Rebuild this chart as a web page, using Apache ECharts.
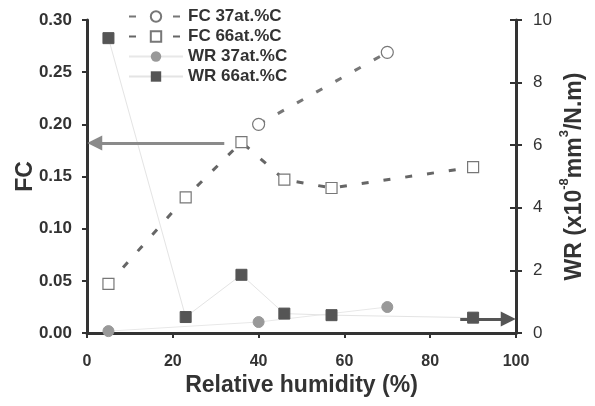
<!DOCTYPE html>
<html><head><meta charset="utf-8">
<script src="https://cdn.jsdelivr.net/npm/echarts@6/dist/echarts.min.js"></script>
<style>html,body{margin:0;padding:0;background:#fff}#c{width:595px;height:406px}</style>
</head><body><div id="c"></div>
<script>
const xTicks = [0, 20, 40, 60, 80, 100];
const fcTicks = [0, 0.05, 0.10, 0.15, 0.20, 0.25, 0.30];
const wrTicks = [0, 2, 4, 6, 8, 10];

const humFC37 = [40, 70];
const fc37 = [0.200, 0.269];
const humFC66 = [5, 23, 36, 46, 57, 90];
const fc66 = [0.047, 0.130, 0.183, 0.147, 0.139, 0.159];
const humWR37 = [5, 40, 70];
const wr37 = [0.06, 0.35, 0.83];
const humWR66 = [5, 23, 36, 46, 57, 90];
const wr66 = [9.42, 0.51, 1.86, 0.62, 0.57, 0.49];

const arrowFC = [[32, 0.182], [1.8, 0.182]];
const arrowWR = [[87, 0.45], [98.2, 0.45]];

const pairs = (xs, ys) => xs.map((x, i) => [x, ys[i]]);
const FONT = 'Liberation Sans, Arial, sans-serif';

const chart = echarts.init(document.getElementById('c'), null, {renderer: 'canvas'});
const axisCommon = {
  axisLine: {show: true, lineStyle: {color: '#333', width: 3}},
  axisTick: {show: true, length: 5, lineStyle: {color: '#333', width: 2}},
  splitLine: {show: false},
  axisLabel: {color: '#333', fontSize: 16, fontWeight: 'bold', fontFamily: FONT}
};
const titleStyle = {fontSize: 23, fontWeight: 'bold', color: '#333', fontFamily: FONT};
chart.setOption({
  animation: false,
  backgroundColor: '#fff',
  grid: {left: 87, right: 79, top: 20, bottom: 73, containLabel: false, outerBoundsMode: 'none'},
  legend: {
    orient: 'vertical', left: 123, top: 3, itemGap: 3, itemWidth: 54, itemHeight: 13,
    textStyle: {color: '#333', fontSize: 17, fontWeight: 'bold', fontFamily: FONT, lineHeight: 16},
    data: ['FC 37at.%C', 'FC 66at.%C', 'WR 37at.%C', 'WR 66at.%C']
  },
  xAxis: Object.assign({}, axisCommon, {
    type: 'value', min: xTicks[0], max: xTicks[xTicks.length - 1], interval: 20,
    name: 'Relative humidity (%)', nameLocation: 'middle', nameGap: 41, nameMoveOverlap: false,
    nameTextStyle: titleStyle,
    axisLabel: Object.assign({}, axisCommon.axisLabel, {margin: 21})
  }),
  yAxis: [
    Object.assign({}, axisCommon, {
      type: 'value', min: fcTicks[0], max: fcTicks[fcTicks.length - 1], interval: 0.05,
      position: 'left',
      name: 'FC', nameLocation: 'middle', nameGap: 50, nameRotate: 90, nameMoveOverlap: false,
      nameTextStyle: titleStyle,
      axisLabel: Object.assign({}, axisCommon.axisLabel, {formatter: v => v.toFixed(2), margin: 15, fontSize: 17})
    }),
    Object.assign({}, axisCommon, {
      type: 'value', min: wrTicks[0], max: wrTicks[wrTicks.length - 1], interval: 2,
      position: 'right',
      name: '{a|WR (x10}{s|-8}{a|mm}{s|3}{a|/N.m)}', nameLocation: 'middle', nameGap: 42, nameRotate: 90, nameMoveOverlap: false,
      nameTextStyle: {
        rich: {
          a: Object.assign({}, titleStyle, {verticalAlign: 'bottom', lineHeight: 28}),
          s: Object.assign({}, titleStyle, {fontSize: 13, verticalAlign: 'top', lineHeight: 28})
        }
      },
      axisTick: {show: true, length: 6, lineStyle: {color: '#333', width: 2}},
      axisLabel: Object.assign({}, axisCommon.axisLabel, {margin: 17, fontWeight: 'normal', fontSize: 17})
    }),
    {
      type: 'value', min: wrTicks[0], max: wrTicks[wrTicks.length - 1], interval: 2,
      position: 'right',
      axisLine: {show: false}, splitLine: {show: false}, axisLabel: {show: false},
      axisTick: {show: true, inside: true, length: 6, lineStyle: {color: '#333', width: 2}}
    }
  ],
  series: [
    {
      name: 'FC 37at.%C', type: 'line', yAxisIndex: 0, data: pairs(humFC37, fc37),
      symbol: 'circle', symbolSize: 12,
      itemStyle: {color: '#fff', borderColor: '#777', borderWidth: 1.2},
      lineStyle: {color: '#777', width: 3, type: [7, 15]}, z: 3
    },
    {
      name: 'FC 66at.%C', type: 'line', yAxisIndex: 0, data: pairs(humFC66, fc66),
      symbol: 'rect', symbolSize: 11, clip: false,
      itemStyle: {color: '#fff', borderColor: '#777', borderWidth: 1.2},
      lineStyle: {color: '#666', width: 3, type: [7, 15]}, z: 3,
      markLine: {
        silent: true, symbol: ['none', 'triangle'], symbolSize: 15,
        label: {show: false},
        lineStyle: {color: '#8a8a8a', width: 3, type: 'solid'},
        data: [[{coord: arrowFC[0]}, {coord: arrowFC[1]}]]
      }
    },
    {
      name: 'WR 37at.%C', type: 'line', yAxisIndex: 1, data: pairs(humWR37, wr37),
      symbol: 'circle', symbolSize: 11,
      itemStyle: {color: '#999', borderColor: '#999'},
      lineStyle: {color: '#e8e8e8', width: 1}, z: 2
    },
    {
      name: 'WR 66at.%C', type: 'line', yAxisIndex: 1, data: pairs(humWR66, wr66),
      symbol: 'rect', symbolSize: 11, clip: false,
      itemStyle: {color: '#555', borderColor: '#555'},
      lineStyle: {color: '#e4e4e4', width: 1}, z: 2,
      markLine: {
        silent: true, symbol: ['none', 'triangle'], symbolSize: 15,
        label: {show: false},
        lineStyle: {color: '#555', width: 3, type: 'solid'},
        data: [[{coord: arrowWR[0]}, {coord: arrowWR[1]}]]
      }
    }
  ]
});
</script></body></html>
